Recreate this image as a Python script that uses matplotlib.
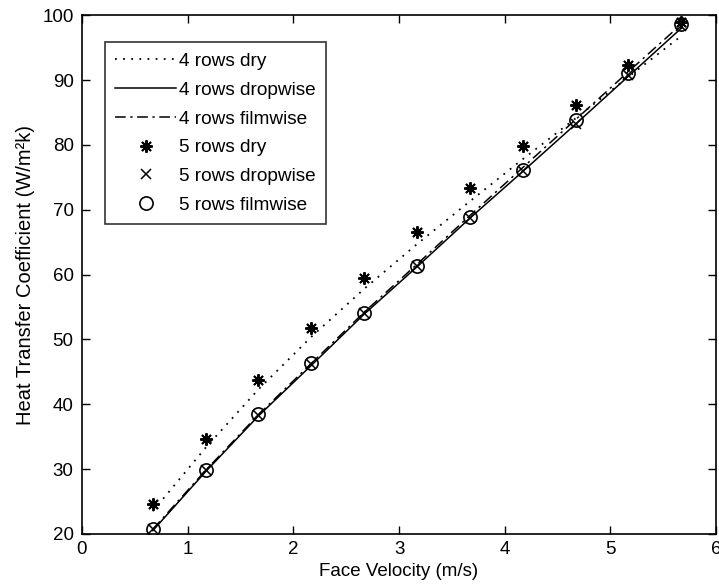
import matplotlib
matplotlib.use("Agg")
import matplotlib.pyplot as plt

plt.rcParams['font.family'] = ['Liberation Sans', 'DejaVu Sans']

velocity = [0.67, 1.17, 1.67, 2.17, 2.67, 3.17, 3.67, 4.17, 4.67, 5.17, 5.67]

rows4_dry = [23.5, 33.3, 42.3, 50.4, 57.8, 64.7, 71.3, 77.8, 84.1, 90.5, 96.8]
rows4_dropwise = [20.5, 29.6, 38.2, 46.0, 53.9, 61.2, 68.7, 75.9, 83.2, 90.6, 98.0]
rows4_filmwise = [20.7, 29.8, 38.4, 46.3, 54.2, 61.6, 69.1, 76.5, 83.9, 91.3, 98.6]

rows5_dry = [24.6, 34.7, 43.7, 51.8, 59.4, 66.5, 73.3, 79.9, 86.1, 92.4, 99.0]
rows5_dropwise = [20.7, 29.8, 38.4, 46.2, 54.0, 61.3, 68.8, 76.0, 83.3, 90.8, 98.4]
rows5_filmwise = [20.8, 29.8, 38.5, 46.3, 54.1, 61.4, 68.9, 76.2, 83.8, 91.1, 98.7]

xticks = [0, 1, 2, 3, 4, 5, 6]
yticks = [20, 30, 40, 50, 60, 70, 80, 90, 100]

fig = plt.figure(figsize=(7.19, 5.88), dpi=100)
ax = fig.add_axes([0.114, 0.092, 0.882, 0.882])

ax.plot(velocity, rows4_dry, color='black', lw=1.3, linestyle=(0, (1, 3.5)), label='4 rows dry')
ax.plot(velocity, rows4_dropwise, color='black', lw=1.1, linestyle='-', label='4 rows dropwise')
ax.plot(velocity, rows4_filmwise, color='black', lw=1.1, linestyle=(0, (7, 3, 1.5, 3)), label='4 rows filmwise')
ax.plot(velocity, rows5_dry, color='black', lw=0, marker=(8, 2, 0), ms=9, mew=1.4,
        linestyle='none', label='5 rows dry')
ax.plot(velocity, rows5_dropwise, color='black', marker='x', ms=6.5, mew=1.1,
        linestyle='none', label='5 rows dropwise')
ax.plot(velocity, rows5_filmwise, color='black', marker='o', ms=9.5, mew=1.2,
        markerfacecolor='none', linestyle='none', label='5 rows filmwise')

ax.set_xlim(0, 6)
ax.set_ylim(20, 100)
ax.set_xticks(xticks)
ax.set_yticks(yticks)
ax.tick_params(direction='in', top=True, right=True, length=6, width=1, labelsize=13.5)
ax.tick_params(axis='x', pad=5)
ax.tick_params(axis='y', pad=6)
for s in ax.spines.values():
    s.set_linewidth(1.2)

ax.set_xlabel('Face Velocity (m/s)', fontsize=13.5, labelpad=4)
ax.set_ylabel('Heat Transfer Coefficient (W/m²k)', fontsize=14.5, labelpad=5)

leg = ax.legend(loc='upper left', bbox_to_anchor=(0.036, 0.948), borderaxespad=0,
                fontsize=13.7, frameon=True, fancybox=False, edgecolor='black',
                handlelength=3.2, handletextpad=0.15, labelspacing=0.6, borderpad=0.55)
leg.get_frame().set_linewidth(1.2)

fig.savefig('out.png', dpi=100)
